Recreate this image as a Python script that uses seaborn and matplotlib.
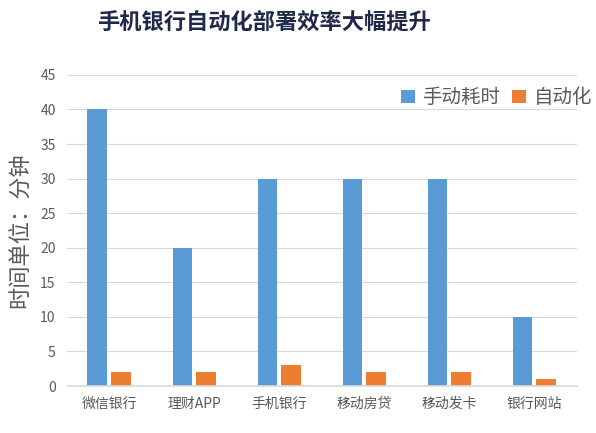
import matplotlib
matplotlib.use("Agg")
import matplotlib.pyplot as plt
import seaborn as sns
import pandas as pd

categories = ["微信银行", "理财APP", "手机银行", "移动房贷", "移动发卡", "银行网站"]
manual = [40, 20, 30, 30, 30, 10]
auto = [2, 2, 3, 2, 2, 1]
series_names = ["手动耗时", "自动化"]
yticks = [0, 5, 10, 15, 20, 25, 30, 35, 40, 45]

df = pd.DataFrame({
    "cat": categories * 2,
    "val": manual + auto,
    "series": [series_names[0]] * len(categories) + [series_names[1]] * len(categories),
})

sns.set_theme(style="white")
plt.rcParams["font.family"] = ["Noto Sans CJK SC", "DejaVu Sans"]

fig = plt.figure(figsize=(5.96, 4.33), dpi=100)
ax = fig.add_axes([0.112, 0.1085, 0.856, 0.7185])

sns.barplot(data=df, x="cat", y="val", hue="series", order=categories,
            hue_order=series_names, palette=["#5B9BD5", "#ED7D31"],
            width=0.56, gap=0.17, ax=ax, legend=True, saturation=1, linewidth=0)

ax.set_ylim(0, 45)
ax.set_yticks(yticks)
ax.set_xlim(-0.5, len(categories) - 0.5)
ax.yaxis.grid(True, color="#d9d9d9", linewidth=0.8)
ax.set_axisbelow(True)
for s in ["top", "right", "left"]:
    ax.spines[s].set_visible(False)
ax.spines["bottom"].set_color("#d9d9d9")
ax.tick_params(axis="both", length=0, colors="#595959", labelsize=10)
ax.tick_params(axis="x", pad=8)
ax.tick_params(axis="y", pad=8)
ax.set_xlabel("")
ax.set_ylabel("时间单位：分钟", fontsize=16, color="#595959", labelpad=6)

leg = ax.legend(loc="upper left", bbox_to_anchor=(0.64, 0.985), ncol=2, frameon=False,
                fontsize=14, handlelength=0.7, handleheight=0.7, handletextpad=0.4,
                columnspacing=0.6, borderaxespad=0)
for t in leg.get_texts():
    t.set_color("#595959")

fig.text(0.442, 0.948, "手机银行自动化部署效率大幅提升", ha="center", va="center",
         fontsize=16, fontweight="bold", color="#1f2a4a")

fig.savefig("out.png", dpi=100, facecolor="white")
